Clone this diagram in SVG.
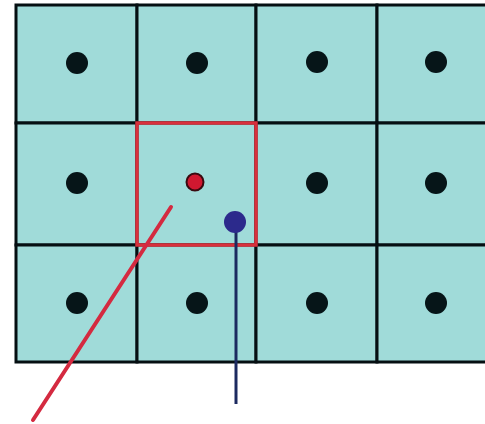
<svg xmlns="http://www.w3.org/2000/svg" width="485" height="424" viewBox="0 0 485 424">
<style>
.cell{fill:#a0dbd9;stroke:#050f12;stroke-width:3}
.dot{fill:#061518}
</style>
<rect width="485" height="424" fill="#ffffff"/>
<g id="grid">
<rect class="cell" x="16" y="5" width="121" height="118"/>
<rect class="cell" x="137" y="5" width="119" height="118"/>
<rect class="cell" x="256" y="5" width="121" height="118"/>
<rect class="cell" x="377" y="5" width="120" height="118"/>
<rect class="cell" x="16" y="123" width="121" height="122"/>
<rect class="cell" x="137" y="123" width="119" height="122"/>
<rect class="cell" x="256" y="123" width="121" height="122"/>
<rect class="cell" x="377" y="123" width="120" height="122"/>
<rect class="cell" x="16" y="245" width="121" height="117"/>
<rect class="cell" x="137" y="245" width="119" height="117"/>
<rect class="cell" x="256" y="245" width="121" height="117"/>
<rect class="cell" x="377" y="245" width="120" height="117"/>
</g>
<g id="dots">
<circle class="dot" cx="77" cy="63" r="11"/>
<circle class="dot" cx="197" cy="63" r="11"/>
<circle class="dot" cx="317" cy="62" r="11"/>
<circle class="dot" cx="436" cy="62" r="11"/>
<circle class="dot" cx="77" cy="183" r="11"/>
<circle class="dot" cx="317" cy="183" r="11"/>
<circle class="dot" cx="436" cy="183" r="11"/>
<circle class="dot" cx="77" cy="303" r="11"/>
<circle class="dot" cx="197" cy="303" r="11"/>
<circle class="dot" cx="317" cy="303" r="11"/>
<circle class="dot" cx="436" cy="303" r="11"/>
</g>
<g id="highlight">
<rect x="137" y="123" width="119" height="122" fill="none" stroke="#d8303c" stroke-width="3.5"/>
<circle cx="195" cy="182" r="8.5" fill="#d01830" stroke="#3a0a10" stroke-width="2"/>
</g>
<g id="connectors">
<line x1="33" y1="420" x2="171" y2="207" stroke="#d42a40" stroke-width="4" stroke-linecap="round"/>
<line x1="236" y1="222" x2="236" y2="404" stroke="#1c2a60" stroke-width="3"/>
<circle cx="235" cy="222" r="11" fill="#2c2a8c"/>
</g>
</svg>
